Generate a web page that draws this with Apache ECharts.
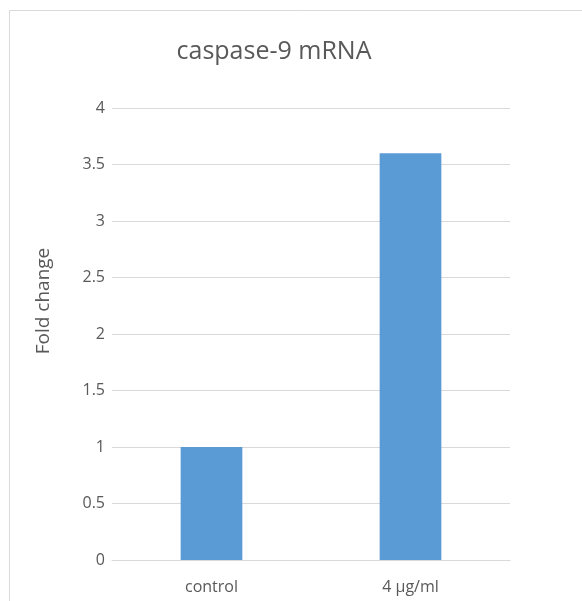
<!DOCTYPE html>
<html><head><meta charset="utf-8">
<script src="https://cdn.jsdelivr.net/npm/echarts@6/dist/echarts.min.js"></script>
<style>html,body{margin:0;padding:0;background:#fff;}#c{width:582px;height:601px;}</style>
</head><body><div id="c"></div>
<script>
const categories = ['control', '4 μg/ml'];
const foldChange = [1.0, 3.6];
const yTicks = [0, 0.5, 1, 1.5, 2, 2.5, 3, 3.5, 4];
const titleText = 'caspase-9 mRNA';
const yAxisTitle = 'Fold change';

const chart = echarts.init(document.getElementById('c'), null, {renderer: 'canvas'});
const font = 'Open Sans';
chart.setOption({
  animation: false,
  backgroundColor: '#fff',
  graphic: [{
    type: 'rect', silent: true,
    shape: {x: 9.5, y: 10.5, width: 620, height: 640},
    style: {fill: 'none', stroke: '#d9d9d9', lineWidth: 1}
  }, {
    type: 'text', silent: true, x: 44, y: 301, rotation: Math.PI / 2,
    style: {text: yAxisTitle, fontFamily: font, fontSize: 19, fill: '#595959',
      align: 'center', verticalAlign: 'middle'}
  }],
  title: {
    text: titleText, left: 269, top: 34, textAlign: 'center',
    textStyle: {fontFamily: font, fontSize: 25, fontWeight: 'normal', color: '#595959'}
  },
  grid: {left: 112, right: 72, top: 108, bottom: 41},
  xAxis: {
    type: 'category', data: categories,
    axisLine: {show: true, lineStyle: {color: '#d9d9d9'}},
    axisTick: {show: false},
    axisLabel: {fontFamily: font, fontSize: 16, color: '#595959', margin: 19}
  },
  yAxis: {
    type: 'value', min: 0, max: 4, interval: 0.5,
    axisLine: {show: false}, axisTick: {show: false},
    axisLabel: {fontFamily: font, fontSize: 16, color: '#595959', margin: 7,
      formatter: v => yTicks.includes(v) ? String(v) : ''},
    splitLine: {lineStyle: {color: '#d9d9d9', width: 1}}
  },
  series: [{
    type: 'bar', data: foldChange, barWidth: '31%',
    itemStyle: {color: '#5b9bd5'}
  }]
});
</script></body></html>
